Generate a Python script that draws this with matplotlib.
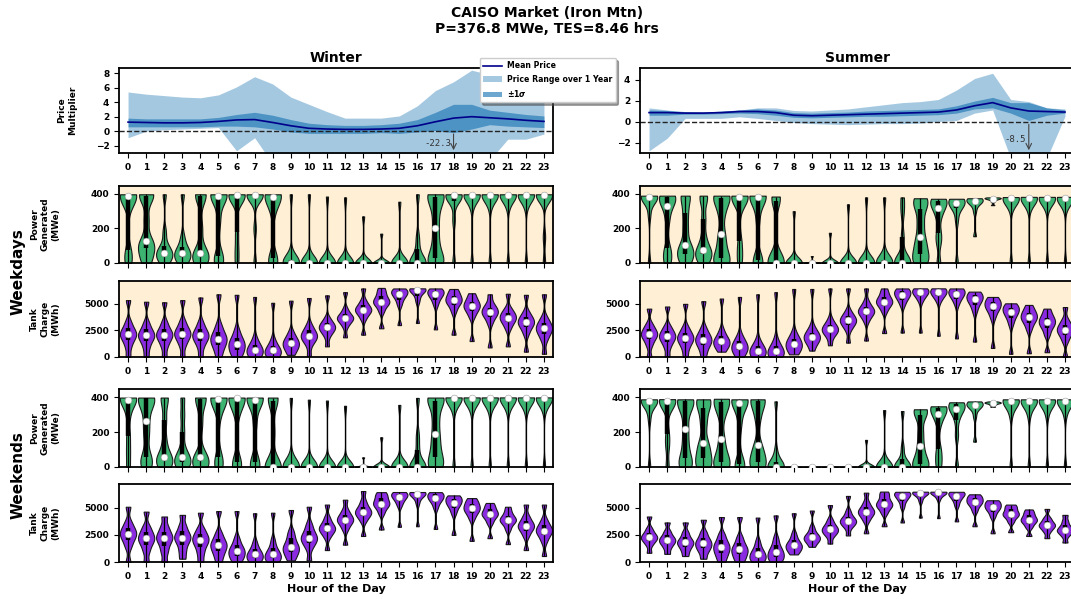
import numpy as np
import matplotlib
matplotlib.use("Agg")
import matplotlib.pyplot as plt

hours = list(range(24))

# price multiplier (winter)
win_mean = [1.25, 1.2, 1.15, 1.15, 1.2, 1.35, 1.55, 1.6, 1.2, 0.75, 0.4, 0.3, 0.25, 0.25, 0.3, 0.4, 0.75, 1.3, 1.8, 2.0, 1.85, 1.7, 1.5, 1.35]
win_lo = [-0.9, 0.0, 0.2, 0.3, 0.4, 0.5, -2.7, -0.9, -4.5, -5.5, -6.0, -6.5, -7.0, -7.0, -7.0, -6.0, -8.0, -10.0, -22.3, -12.0, -4.0, -1.1, -1.1, -0.4]
win_hi = [5.4, 5.1, 4.9, 4.7, 4.6, 5.0, 6.1, 7.5, 6.5, 4.7, 3.7, 2.7, 1.8, 1.8, 1.8, 2.1, 3.5, 5.6, 6.8, 8.4, 7.8, 7.0, 6.0, 5.2]
win_sig_lo = [0.6, 0.6, 0.6, 0.6, 0.6, 0.7, 0.7, 0.6, 0.3, -0.1, -0.3, -0.3, -0.3, -0.3, -0.2, -0.3, -0.1, 0.1, -0.2, 0.3, 0.9, 0.7, 0.6, 0.5]
win_sig_hi = [1.8, 1.7, 1.7, 1.7, 1.7, 1.9, 2.3, 2.6, 2.2, 1.6, 1.1, 0.9, 0.8, 0.8, 0.9, 1.1, 1.6, 2.6, 3.7, 3.7, 2.9, 2.6, 2.3, 2.1]

# price multiplier (summer)
sum_mean = [0.85, 0.85, 0.8, 0.8, 0.85, 0.95, 0.95, 0.85, 0.6, 0.55, 0.6, 0.65, 0.7, 0.75, 0.8, 0.85, 0.9, 1.1, 1.5, 1.8, 1.3, 1.0, 0.95, 0.9]
sum_lo = [-2.8, -1.6, 0.3, 0.3, 0.3, 0.45, 0.3, 0.1, -0.1, -0.2, -0.25, -0.3, -0.25, -0.2, -0.2, -0.15, 0.0, 0.1, 0.8, 1.1, -3.5, -8.5, -3.5, 0.5]
sum_hi = [1.3, 1.1, 0.9, 0.9, 0.95, 1.1, 1.3, 1.3, 1.05, 1.0, 1.1, 1.2, 1.4, 1.6, 1.8, 1.9, 2.1, 3.0, 4.1, 4.6, 2.1, 1.9, 1.3, 1.2]
sum_sig_lo = [0.6, 0.6, 0.7, 0.7, 0.75, 0.8, 0.75, 0.6, 0.4, 0.35, 0.4, 0.45, 0.5, 0.5, 0.55, 0.6, 0.65, 0.8, 1.2, 1.3, 0.8, 0.1, 0.6, 0.8]
sum_sig_hi = [1.1, 1.05, 0.95, 0.9, 1.0, 1.1, 1.2, 1.1, 0.85, 0.8, 0.85, 0.9, 1.0, 1.05, 1.1, 1.15, 1.2, 1.5, 1.95, 2.3, 1.8, 1.8, 1.3, 1.1]

# power generated (MWe), quantiles per hour (0,12.5,...,100 %)
wd_power_win = [
    [0, 30, 77, 330, 390, 393, 395, 396, 398],
    [0, 40, 85, 110, 125, 250, 390, 395, 398],
    [0, 20, 40, 50, 57, 75, 100, 180, 398],
    [0, 15, 35, 50, 57, 70, 95, 150, 398],
    [0, 20, 45, 52, 57, 200, 390, 395, 398],
    [0, 20, 40, 250, 390, 393, 395, 396, 398],
    [0, 80, 180, 370, 395, 396, 397, 398, 398],
    [0, 200, 385, 393, 395, 396, 397, 398, 398],
    [0, 10, 30, 300, 380, 390, 395, 396, 398],
    [0, 0, 0, 0, 0, 5, 20, 50, 398],
    [0, 0, 0, 0, 0, 0, 5, 20, 398],
    [0, 0, 0, 0, 0, 0, 0, 10, 385],
    [0, 0, 0, 0, 0, 0, 0, 5, 380],
    [0, 0, 0, 0, 0, 0, 0, 3, 270],
    [0, 0, 0, 0, 0, 0, 0, 1, 170],
    [0, 0, 0, 0, 0, 0, 3, 15, 355],
    [0, 0, 0, 0, 0, 20, 80, 150, 398],
    [0, 10, 30, 110, 205, 300, 380, 395, 398],
    [0, 250, 360, 385, 392, 395, 396, 397, 398],
    [0, 330, 390, 394, 395, 396, 397, 398, 398],
    [0, 330, 390, 394, 395, 396, 397, 398, 398],
    [0, 330, 390, 394, 395, 396, 397, 398, 398],
    [0, 330, 390, 394, 395, 396, 397, 398, 398],
    [0, 150, 390, 394, 395, 396, 397, 398, 398],
]
wd_power_sum = [
    [0, 280, 370, 378, 380, 383, 386, 388, 390],
    [0, 40, 85, 250, 333, 370, 380, 386, 390],
    [0, 30, 55, 80, 105, 200, 290, 380, 390],
    [0, 30, 55, 70, 77, 150, 255, 370, 390],
    [0, 10, 30, 100, 170, 290, 375, 385, 390],
    [0, 60, 130, 330, 383, 386, 388, 389, 390],
    [0, 5, 15, 250, 380, 385, 387, 389, 390],
    [0, 0, 0, 0, 0, 50, 360, 380, 385],
    [0, 0, 0, 0, 0, 0, 0, 10, 300],
    [0, 0, 0, 0, 0, 0, 0, 1, 40],
    [0, 0, 0, 0, 0, 0, 0, 2, 175],
    [0, 0, 0, 0, 0, 0, 0, 10, 340],
    [0, 0, 0, 0, 0, 0, 5, 30, 380],
    [0, 0, 0, 0, 0, 5, 20, 50, 380],
    [0, 0, 0, 0, 0, 30, 150, 300, 380],
    [0, 20, 55, 100, 148, 230, 315, 360, 375],
    [0, 120, 175, 270, 317, 340, 360, 368, 372],
    [0, 250, 320, 340, 346, 355, 362, 368, 372],
    [155, 300, 340, 355, 360, 365, 368, 372, 375],
    [335, 355, 365, 370, 373, 375, 377, 378, 380],
    [0, 320, 365, 372, 375, 377, 379, 380, 382],
    [0, 320, 368, 373, 376, 378, 380, 381, 383],
    [0, 320, 368, 373, 376, 378, 380, 381, 383],
    [0, 320, 368, 373, 376, 378, 380, 381, 383],
]
we_power_win = [
    [0, 90, 180, 300, 385, 390, 393, 395, 397],
    [0, 30, 60, 180, 264, 350, 393, 395, 397],
    [0, 20, 40, 50, 60, 150, 270, 390, 397],
    [0, 15, 30, 45, 57, 100, 200, 300, 397],
    [0, 15, 35, 45, 57, 250, 390, 395, 397],
    [0, 20, 60, 300, 390, 393, 395, 396, 397],
    [0, 10, 30, 300, 395, 396, 396, 397, 397],
    [0, 10, 30, 250, 385, 392, 395, 396, 397],
    [0, 0, 0, 0, 0, 200, 380, 395, 397],
    [0, 0, 0, 0, 0, 5, 20, 60, 395],
    [0, 0, 0, 0, 0, 0, 5, 30, 385],
    [0, 0, 0, 0, 0, 0, 0, 10, 380],
    [0, 0, 0, 0, 0, 0, 0, 10, 350],
    [0, 0, 0, 0, 0, 0, 0, 1, 55],
    [0, 0, 0, 0, 0, 0, 0, 3, 170],
    [0, 0, 0, 0, 0, 0, 5, 30, 355],
    [0, 0, 0, 0, 0, 10, 100, 180, 395],
    [0, 15, 55, 120, 190, 280, 375, 395, 397],
    [0, 330, 390, 394, 395, 396, 397, 398, 398],
    [0, 330, 390, 394, 395, 396, 397, 398, 398],
    [0, 330, 390, 394, 395, 396, 397, 398, 398],
    [0, 330, 390, 394, 395, 396, 397, 398, 398],
    [0, 330, 390, 394, 395, 396, 397, 398, 398],
    [0, 330, 390, 394, 395, 396, 397, 398, 398],
]
we_power_sum = [
    [0, 280, 365, 373, 377, 380, 383, 385, 387],
    [0, 120, 190, 330, 377, 381, 384, 386, 388],
    [0, 20, 50, 130, 220, 320, 375, 385, 387],
    [0, 15, 50, 100, 140, 250, 335, 383, 387],
    [0, 10, 30, 80, 160, 300, 370, 385, 390],
    [0, 5, 20, 250, 365, 378, 383, 386, 387],
    [0, 10, 30, 80, 125, 280, 375, 385, 387],
    [0, 0, 0, 0, 0, 10, 30, 90, 375],
    [0, 0, 0, 0, 0, 0, 0, 0, 2],
    [0, 0, 0, 0, 0, 0, 0, 0, 2],
    [0, 0, 0, 0, 0, 0, 0, 0, 2],
    [0, 0, 0, 0, 0, 0, 0, 0, 2],
    [0, 0, 0, 0, 0, 0, 0, 5, 155],
    [0, 0, 0, 0, 0, 0, 5, 40, 325],
    [0, 0, 0, 0, 0, 10, 45, 110, 320],
    [0, 5, 15, 60, 120, 200, 300, 325, 330],
    [0, 50, 105, 250, 305, 325, 340, 345, 347],
    [0, 180, 270, 320, 333, 345, 360, 366, 370],
    [145, 290, 335, 348, 353, 360, 366, 371, 375],
    [345, 355, 360, 364, 366, 368, 370, 372, 375],
    [0, 300, 365, 373, 377, 380, 383, 385, 387],
    [0, 300, 365, 373, 377, 380, 383, 385, 387],
    [0, 300, 365, 373, 377, 380, 383, 385, 387],
    [0, 300, 365, 373, 377, 380, 383, 385, 387],
]

# tank charge (MWh), quantiles per hour
wd_tank_win = [
    [0, 1000, 1600, 1950, 2150, 2350, 2700, 3300, 5350],
    [0, 900, 1500, 1850, 2030, 2250, 2600, 3200, 5200],
    [0, 1000, 1550, 1900, 2100, 2300, 2650, 3250, 5150],
    [0, 1100, 1650, 2000, 2200, 2400, 2750, 3350, 5350],
    [0, 1000, 1550, 1850, 2030, 2250, 2600, 3200, 5600],
    [0, 700, 1150, 1500, 1700, 1950, 2350, 3000, 5900],
    [0, 300, 700, 1000, 1220, 1450, 1800, 2500, 5850],
    [0, 150, 350, 550, 690, 850, 1150, 1700, 5650],
    [0, 100, 300, 480, 620, 780, 1050, 1600, 5100],
    [200, 600, 950, 1150, 1310, 1500, 1800, 2300, 5300],
    [100, 1200, 1650, 1850, 2000, 2200, 2500, 3000, 5550],
    [1000, 2000, 2450, 2650, 2800, 2950, 3200, 3600, 5800],
    [1850, 2900, 3350, 3550, 3650, 3800, 4000, 4500, 6100],
    [2100, 3600, 4100, 4300, 4440, 4600, 4850, 5300, 6450],
    [2700, 4300, 4850, 5050, 5220, 5400, 5700, 6100, 6500],
    [3000, 4900, 5400, 5700, 5900, 6050, 6200, 6350, 6450],
    [3200, 5200, 5700, 6050, 6300, 6380, 6420, 6440, 6460],
    [2600, 4900, 5400, 5700, 5900, 6050, 6200, 6350, 6450],
    [2100, 4300, 4900, 5150, 5340, 5500, 5750, 6100, 6400],
    [1500, 3800, 4300, 4600, 4780, 4950, 5200, 5550, 6000],
    [900, 3200, 3800, 4050, 4220, 4400, 4650, 5000, 5900],
    [1000, 2700, 3250, 3500, 3700, 3900, 4150, 4550, 5950],
    [500, 2200, 2800, 3100, 3280, 3450, 3750, 4200, 5850],
    [300, 1600, 2150, 2500, 2690, 2900, 3200, 3700, 5900],
]
wd_tank_sum = [
    [0, 1100, 1650, 1950, 2150, 2350, 2650, 3100, 4550],
    [50, 950, 1450, 1750, 1940, 2150, 2450, 2900, 4750],
    [0, 800, 1300, 1600, 1780, 2000, 2300, 2800, 5000],
    [0, 700, 1150, 1450, 1620, 1850, 2150, 2700, 5250],
    [500, 850, 1150, 1320, 1470, 1650, 1950, 2500, 5500],
    [0, 350, 650, 850, 1000, 1200, 1500, 2000, 5650],
    [0, 100, 300, 480, 600, 750, 1000, 1500, 5900],
    [0, 100, 250, 420, 530, 700, 1000, 1600, 6100],
    [250, 600, 900, 1080, 1220, 1400, 1700, 2200, 6400],
    [600, 1300, 1600, 1750, 1880, 2050, 2300, 2800, 6400],
    [1100, 2000, 2350, 2500, 2620, 2750, 3000, 3500, 6450],
    [1350, 2600, 3050, 3300, 3440, 3600, 3850, 4300, 6450],
    [1550, 3400, 3950, 4150, 4310, 4450, 4700, 5200, 6450],
    [2250, 4300, 4800, 5050, 5190, 5350, 5600, 6000, 6450],
    [2300, 4900, 5400, 5650, 5840, 6000, 6200, 6350, 6450],
    [2300, 5300, 5700, 5950, 6090, 6200, 6320, 6400, 6460],
    [2000, 5300, 5700, 5950, 6090, 6200, 6320, 6400, 6460],
    [1750, 5000, 5500, 5800, 5970, 6100, 6250, 6380, 6450],
    [1450, 4300, 4900, 5250, 5440, 5600, 5800, 6000, 6150],
    [850, 3700, 4300, 4600, 4810, 4980, 5200, 5450, 5650],
    [300, 3100, 3700, 4050, 4280, 4450, 4650, 4850, 5050],
    [350, 2600, 3200, 3500, 3720, 3900, 4150, 4450, 4900],
    [450, 2100, 2700, 3000, 3250, 3450, 3700, 4050, 4550],
    [0, 1500, 2050, 2350, 2560, 2750, 3050, 3500, 4700],
]
we_tank_win = [
    [0, 1400, 2000, 2350, 2600, 2850, 3150, 3700, 5100],
    [0, 1000, 1600, 1950, 2190, 2450, 2800, 3300, 4650],
    [0, 900, 1500, 1950, 2200, 2450, 2800, 3300, 4200],
    [300, 1000, 1600, 2000, 2250, 2500, 2850, 3400, 4350],
    [0, 800, 1400, 1800, 2030, 2300, 2600, 3100, 4550],
    [0, 600, 1000, 1350, 1560, 1800, 2150, 2700, 4700],
    [0, 300, 600, 850, 1030, 1250, 1600, 2200, 4700],
    [0, 150, 350, 550, 720, 900, 1200, 1800, 4500],
    [0, 150, 350, 550, 720, 950, 1300, 2000, 4550],
    [150, 600, 950, 1200, 1400, 1700, 2200, 2800, 4800],
    [150, 1300, 1800, 2050, 2250, 2500, 2900, 3500, 5100],
    [1100, 2300, 2750, 2950, 3120, 3300, 3600, 4100, 5300],
    [1600, 3000, 3500, 3750, 3900, 4100, 4350, 4800, 5750],
    [2400, 3800, 4250, 4450, 4620, 4800, 5100, 5600, 6550],
    [3000, 4500, 5000, 5250, 5400, 5600, 5900, 6200, 6450],
    [3250, 5200, 5600, 5850, 6030, 6150, 6300, 6400, 6460],
    [3300, 5400, 5900, 6150, 6310, 6380, 6420, 6440, 6460],
    [3050, 5000, 5500, 5750, 5900, 6050, 6250, 6380, 6450],
    [2500, 4500, 5000, 5300, 5470, 5650, 5850, 6050, 6150],
    [1950, 4000, 4500, 4750, 4940, 5100, 5350, 5650, 5900],
    [2200, 3600, 4050, 4300, 4440, 4600, 4850, 5150, 5450],
    [1650, 3000, 3500, 3750, 3880, 4000, 4250, 4600, 5100],
    [1100, 2400, 2900, 3150, 3340, 3500, 3800, 4250, 5300],
    [550, 1900, 2450, 2750, 2900, 3100, 3400, 3900, 5300],
]
we_tank_sum = [
    [850, 1600, 1950, 2150, 2280, 2450, 2700, 3100, 4200],
    [750, 1300, 1650, 1850, 2030, 2200, 2450, 2850, 3650],
    [550, 1050, 1400, 1650, 1810, 2000, 2300, 2750, 3650],
    [300, 900, 1250, 1500, 1720, 1950, 2250, 2750, 3900],
    [0, 500, 850, 1150, 1400, 1650, 2000, 2550, 4150],
    [0, 350, 700, 950, 1160, 1400, 1750, 2300, 4150],
    [0, 150, 350, 550, 750, 950, 1300, 1900, 4100],
    [0, 200, 450, 700, 900, 1150, 1550, 2200, 4300],
    [700, 1000, 1250, 1400, 1560, 1750, 2050, 2600, 4500],
    [1400, 1800, 2000, 2150, 2280, 2450, 2700, 3200, 4750],
    [1700, 2400, 2700, 2850, 3030, 3200, 3450, 3900, 5250],
    [2450, 3200, 3500, 3650, 3810, 3950, 4200, 4700, 6100],
    [2650, 3800, 4250, 4450, 4650, 4800, 5050, 5500, 6400],
    [3300, 4500, 4950, 5150, 5340, 5500, 5800, 6200, 6500],
    [3650, 5100, 5600, 5850, 6060, 6200, 6350, 6430, 6480],
    [4100, 5600, 6000, 6200, 6370, 6420, 6450, 6470, 6490],
    [4050, 5800, 6150, 6330, 6440, 6460, 6470, 6480, 6490],
    [3750, 5200, 5650, 5900, 6090, 6250, 6380, 6450, 6480],
    [3300, 4700, 5150, 5400, 5560, 5700, 5900, 6100, 6250],
    [2650, 4200, 4650, 4900, 5060, 5200, 5400, 5600, 5700],
    [2750, 3700, 4100, 4300, 4440, 4600, 4850, 5100, 5300],
    [2400, 3200, 3550, 3750, 3910, 4050, 4300, 4550, 4850],
    [2200, 2800, 3100, 3300, 3410, 3550, 3800, 4100, 4900],
    [1800, 2400, 2700, 2850, 2970, 3150, 3400, 3800, 4350],
]

plt.rcParams['font.family'] = ['DejaVu Sans']
plt.rcParams['font.weight'] = 'bold'
plt.rcParams['axes.labelweight'] = 'bold'
plt.rcParams['axes.titleweight'] = 'bold'
plt.rcParams['axes.linewidth'] = 1.3
plt.rcParams['xtick.labelsize'] = 6.5
plt.rcParams['ytick.labelsize'] = 6.5

W_PX, H_PX = 1071, 599
fig = plt.figure(figsize=(W_PX / 100, H_PX / 100), dpi=100)


def add_ax(x0, top, bot):
    return fig.add_axes([x0 / W_PX, 1 - bot / H_PX, 434 / W_PX, (bot - top) / H_PX])


def price_panel(ax, mean, lo, hi, slo, shi, ylim, yticks):
    rng = ax.fill_between(hours, lo, hi, color='tab:blue', alpha=0.4, lw=0)
    sig = ax.fill_between(hours, slo, shi, color='tab:blue', alpha=0.65, lw=0)
    ln, = ax.plot(hours, mean, color='darkblue', lw=1.2)
    ax.axhline(0, color='#222222', ls='--', lw=1)
    ax.set_xlim(-0.5, 23.5)
    ax.set_ylim(*ylim)
    ax.set_yticks(yticks)
    ax.set_xticks(hours)
    # arrow for the off-scale minimum
    i = int(np.argmin(lo))
    ax.annotate('', xy=(i, ylim[0]), xytext=(i, 0),
                arrowprops=dict(arrowstyle='->', color='#444444', lw=0.8))
    ax.text(i - 0.15, -1.7, f'{lo[i]:.1f}', ha='right', va='center',
            family='DejaVu Sans Mono', fontsize=6.5, color='#333333', weight='normal')
    return ln, rng, sig


def violin_panel(ax, data, color, ylim, yticks, bg=None):
    parts = ax.violinplot(data, positions=hours, widths=0.9, showextrema=False,
                          bw_method=0.3, points=200)
    for b in parts['bodies']:
        b.set_facecolor(color)
        b.set_edgecolor('#1a1a1a')
        b.set_linewidth(0.8)
        b.set_alpha(1)
    q1, med, q3 = np.percentile(np.array(data), [25, 50, 75], axis=1)
    ax.vlines(hours, [min(d) for d in data], [max(d) for d in data], color='k', lw=0.9)
    ax.vlines(hours, q1, q3, color='k', lw=3.2)
    ax.scatter(hours, med, s=24, c='white', edgecolors='#999999', linewidths=0.4, zorder=3)
    ax.set_xlim(-0.5, 23.5)
    ax.set_ylim(*ylim)
    ax.set_yticks(yticks)
    ax.set_xticks(hours)
    if bg:
        ax.set_facecolor(bg)


green = '#3cb371'
purple = '#8a2be2'
peach = '#ffefd5'
rows = [(68, 153), (186, 263), (281, 357), (389, 467), (484, 562)]

for col, x0 in enumerate([119, 640]):
    ax_p = add_ax(x0, *rows[0])
    if col == 0:
        handles = price_panel(ax_p, win_mean, win_lo, win_hi, win_sig_lo, win_sig_hi,
                              (-3, 8.7), [-2, 0, 2, 4, 6, 8])
        ax_p.set_title('Winter', fontsize=10, pad=4)
    else:
        price_panel(ax_p, sum_mean, sum_lo, sum_hi, sum_sig_lo, sum_sig_hi,
                    (-3, 5.1), [-2, 0, 2, 4])
        ax_p.set_title('Summer', fontsize=10, pad=4)

    panels = [
        (wd_power_win if col == 0 else wd_power_sum, green, (0, 446), [0, 200, 400], peach, False),
        (wd_tank_win if col == 0 else wd_tank_sum, purple, (0, 7150), [0, 2500, 5000], peach, True),
        (we_power_win if col == 0 else we_power_sum, green, (0, 446), [0, 200, 400], None, False),
        (we_tank_win if col == 0 else we_tank_sum, purple, (0, 7200), [0, 2500, 5000], None, True),
    ]
    for r, (data, color, ylim, yt, bg, labels) in enumerate(panels):
        ax = add_ax(x0, *rows[r + 1])
        violin_panel(ax, data, color, ylim, yt, bg)
        if not labels:
            ax.set_xticklabels([])
        if r == 3:
            ax.set_xlabel('Hour of the Day', fontsize=8, labelpad=2)
        if col == 0:
            if color == green:
                ax.set_ylabel('Power\nGenerated\n(MWe)', fontsize=6.5)
            else:
                ax.set_ylabel('Tank\nCharge\n(MWh)', fontsize=6.5)
            ax.yaxis.set_label_coords(-0.136, 0.5)
    if col == 0:
        ax_p.set_ylabel('Price\nMultiplier', fontsize=6.5)
        ax_p.yaxis.set_label_coords(-0.097, 0.5)

fig.text(0.017, 1 - 271.5 / H_PX, 'Weekdays', rotation=90, ha='center', va='center',
         fontsize=11, weight='bold')
fig.text(0.017, 1 - 475.5 / H_PX, 'Weekends', rotation=90, ha='center', va='center',
         fontsize=11, weight='bold')
fig.text(547 / W_PX, 1 - 6 / H_PX, 'CAISO Market (Iron Mtn)\nP=376.8 MWe, TES=8.46 hrs',
         ha='center', va='top', fontsize=10, weight='bold')

ln, rng, sig = handles
fig.legend([ln, rng, sig], ['Mean Price', 'Price Range over 1 Year', r'$\pm 1\sigma$'],
           loc='upper left', bbox_to_anchor=(476 / W_PX, 1 - 54 / H_PX),
           fontsize=5.6, shadow=True, framealpha=1, borderpad=0.45,
           handlelength=2.4, handletextpad=0.6, labelspacing=0.55)

fig.savefig('out.png', dpi=100)
